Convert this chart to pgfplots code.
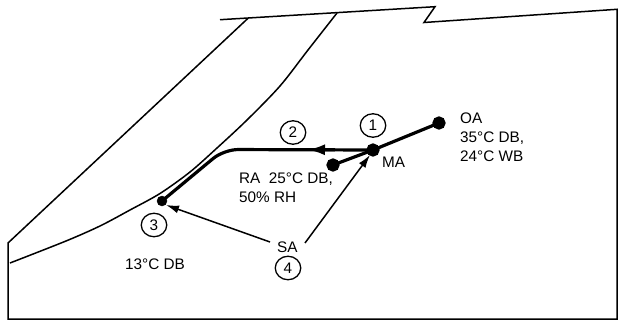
\documentclass[border=0pt]{standalone}
\usepackage{pgfplots}
\pgfplotsset{compat=1.18}
\usepackage{fontspec}
\setmainfont{Liberation Sans}
\usetikzlibrary{shapes.geometric,arrows.meta}
\tikzset{
    num/.style={draw, ellipse, line width=1.3pt, minimum width=25.5pt, minimum height=23.5pt, inner sep=0pt},
    lbl/.style={anchor=base west, inner sep=0pt},
}
\begin{document}
\fontsize{15.3}{18}\selectfont
\begin{tikzpicture}
\begin{axis}[
    scale only axis,
    width=627pt, height=321pt,
    xmin=0, xmax=627, ymin=0, ymax=321,
    y dir=reverse,
    hide axis,
    clip=false,
]
% frame of the chart
\addplot[draw=none] coordinates {(0,0)(627,321)};
\addplot[black, line width=1.5pt] coordinates {
    (220,19.7)(435,6.7)(424,22.5)(617,9.3)(617,319)(8,319)(8,243)(248,18.3)
};
% saturation curve
\addplot[black, line width=1.5pt, smooth, tension=0.5] coordinates {
    (337,13)(308,50)(280,86)(247,120)(217,148)(190,172)(160,193.5)(130,210)(100,226)(66,241)(10,263)
};
% RA - MA - OA mixing line
\addplot[black, line width=3.2pt, mark=*, mark size=5pt] coordinates {
    (333,165)(373,150)(439,123)
};
% cooling process MA -> 3
\addplot[black, line width=3.2pt, rounded corners=14pt] coordinates {
    (373,150)(224,149.5)(162,201)
};
\addplot[black, line width=3.2pt, -{Latex[length=18pt,width=11pt]}] coordinates {
    (335,149.8)(307,149.7)
};
\addplot[black, only marks, mark=*, mark size=5pt] coordinates {(162,201)};
% supply air arrows
\addplot[black, line width=1.5pt, -{Latex[length=13pt,width=8pt]}] coordinates {
    (270,242)(166,205)
};
\addplot[black, line width=1.5pt, -{Latex[length=13pt,width=8pt]}] coordinates {
    (305,243)(370,155)
};
% labels
\node[lbl] at (axis cs:460,123.5) {OA};
\node[lbl] at (axis cs:460,142.5) {35°C DB,};
\node[lbl] at (axis cs:460,161.5) {24°C WB};
\node[lbl] at (axis cs:382,167) {MA};
\node[lbl] at (axis cs:239,183.3) {RA\ \ 25°C DB,};
\node[lbl] at (axis cs:239,202.3) {50\% RH};
\node[lbl] at (axis cs:277,252) {SA};
\node[lbl] at (axis cs:125,269.5) {13°C DB};
\node[num] at (axis cs:373,125.5) {1};
\node[num] at (axis cs:293,132.5) {2};
\node[num] at (axis cs:154,225) {3};
\node[num] at (axis cs:288,268) {4};
\end{axis}
\end{tikzpicture}
\end{document}
